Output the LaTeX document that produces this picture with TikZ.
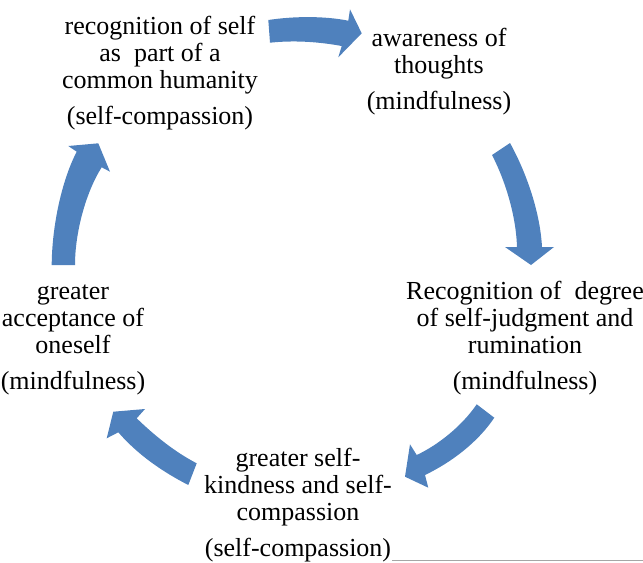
\documentclass[tikz,border=0pt]{standalone}
\usepackage{fontspec}
\setmainfont{Liberation Serif}
\definecolor{arrowblue}{HTML}{4F81BD}
\begin{document}
\begin{tikzpicture}[x=0.75pt,y=-0.75pt,
  lbl/.style={align=center, anchor=base, inner sep=0pt, font=\fontsize{19.5}{20.25}\selectfont},
  cyc/.style={fill=arrowblue, draw=none}]
\useasboundingbox (0,0) rectangle (643,562);

% labels (anchor = baseline of last line)
\node[lbl] (A) at (160,124) {recognition of self\\as\ \ part of a\\common humanity\\[6.75pt](self-compassion)};
\node[lbl] (B) at (439,109) {awareness of\\thoughts\\[6.75pt](mindfulness)};
\node[lbl] (C) at (525,389) {Recognition of\ \ degree\\of self-judgment and\\rumination\\[6.75pt](mindfulness)};
\node[lbl] (D) at (73,389) {greater\\acceptance of\\oneself\\[6.75pt](mindfulness)};
\node[lbl] (E) at (298,556) {greater self-\\kindness and self-\\compassion\\[6.75pt](self-compassion)};

% block arrows
\fill[cyc] (268.3,20) .. controls (295,16) and (325,16) .. (348.3,20.7) -- (350,9.3) -- (361.7,33.3) -- (338.3,57.3) -- (341.7,46) .. controls (320,42) and (295,40) .. (270,42.7) -- cycle;
\fill[cyc] (492,155) -- (510,143) .. controls (525,170) and (540,210) .. (542,247) -- (554,247) -- (531,265) -- (505,247) -- (517,247) .. controls (516,215) and (505,180) .. (492,155) -- cycle;
\fill[cyc] (476.7,404.3) -- (494.3,417.7) .. controls (478,442) and (452,462) .. (425,475) -- (428.3,487.7) -- (405,476.7) -- (410,444.3) -- (416.7,455) .. controls (438,445) and (462,426) .. (476.7,404.3) -- cycle;
\fill[cyc] (196.7,463.3) -- (188.3,485) .. controls (163,472) and (138,455) .. (118.3,432.3) -- (106.7,438.3) -- (113.3,411.7) -- (145,409) -- (136.7,418.3) .. controls (155,436) and (175,452) .. (196.7,463.3) -- cycle;
\fill[cyc] (51.7,265) .. controls (52,225) and (62,180) .. (76.7,151.7) -- (68.3,146) -- (98.3,143.3) -- (110,171.7) -- (101.7,167.3) .. controls (86,192) and (75,232) .. (75,265) -- cycle;

% bottom rule
\coordinate (r1) at (392,560.7);
\coordinate (r2) at (643,560.7);
\draw[gray!70, line width=0.75pt] (r1) -- (r2);
\end{tikzpicture}
\end{document}
